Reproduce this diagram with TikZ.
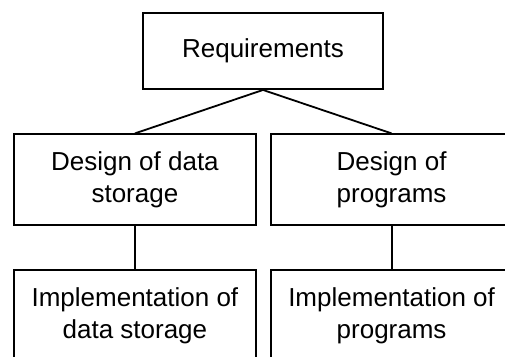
\documentclass[tikz,border=0pt]{standalone}
\usepackage{fontspec}
\setmainfont{Liberation Sans}
\begin{document}
\begin{tikzpicture}[x=1bp,y=-1bp,
  box/.style={draw=black,line width=1.8bp,inner sep=0pt,align=center,
    font=\fontsize{26bp}{31.2bp}\selectfont,minimum width=241.5bp,minimum height=90.8bp},
  topbox/.style={box,minimum width=240.6bp,minimum height=75.7bp},
  link/.style={line width=1.8bp}]
\useasboundingbox (0,0) rectangle (505,356);
\clip (0,0) rectangle (505,356);
\node[topbox] (req) at (263,51.2) {Requirements};
\node[box] (d1) at (134.9,179.7) {Design of data\\storage};
\node[box] (d2) at (391.6,179.7) {Design of\\programs};
\node[box] (i1) at (134.9,315.7) {Implementation of\\data storage};
\node[box] (i2) at (391.6,315.7) {Implementation of\\programs};
\draw[link] (req.south) -- (d1.north);
\draw[link] (req.south) -- (d2.north);
\draw[link] (d1.south) -- (i1.north);
\draw[link] (d2.south) -- (i2.north);
\end{tikzpicture}
\end{document}
